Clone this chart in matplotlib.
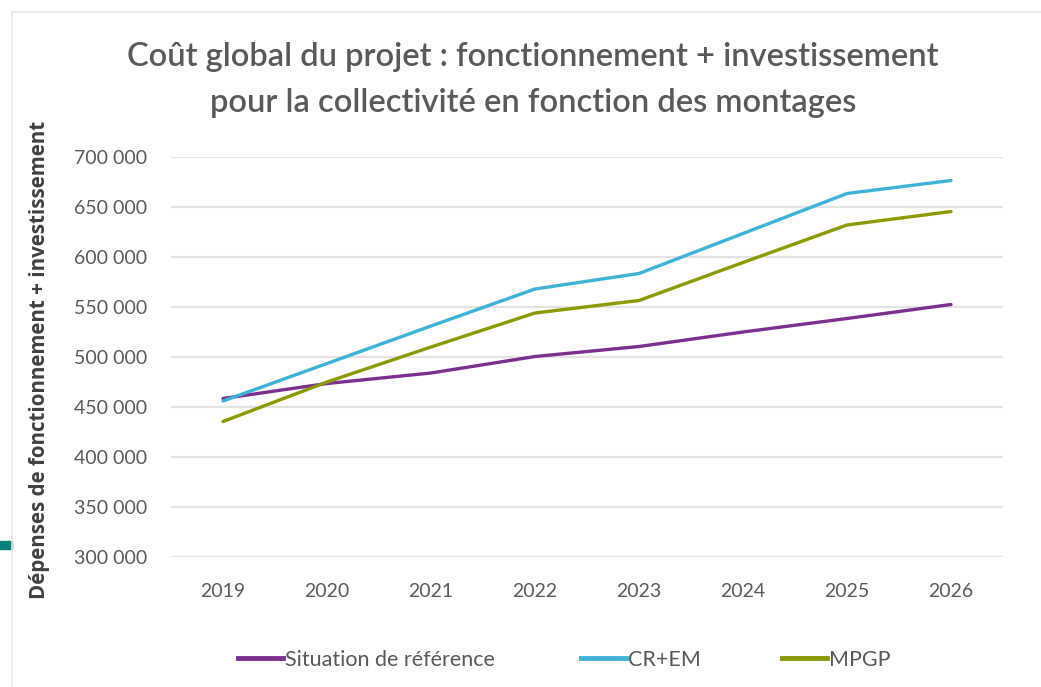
import matplotlib.pyplot as plt
from matplotlib.ticker import FuncFormatter
from matplotlib.patches import Rectangle
from matplotlib.lines import Line2D

years = ["2019", "2020", "2021", "2022", "2023", "2024", "2025", "2026"]
situation_ref = [458500, 473500, 484000, 500500, 510500, 525000, 538500, 552500]
cr_em = [456000, 493500, 531000, 568000, 583500, 623500, 663500, 676500]
mpgp = [435500, 475000, 510000, 544000, 556500, 594500, 632000, 645500]

series_names = ["Situation de référence", "CR+EM", "MPGP"]
colors = ["#7b2f8e", "#3fb3d6", "#8a9a00"]

text_color = "#595959"

fig = plt.figure(figsize=(10.41, 6.87), dpi=100)
ax = fig.add_axes([171 / 1041, 1 - 557 / 687, 832 / 1041, 400 / 687])

x = list(range(len(years)))
for vals, col, name in zip([situation_ref, cr_em, mpgp], colors, series_names):
    ax.plot(x, vals, color=col, linewidth=2.4, label=name, solid_capstyle="round")

ax.set_xlim(-0.5, len(years) - 0.5)
ax.set_ylim(300000, 700000)
ax.set_yticks(range(300000, 700001, 50000))
ax.yaxis.set_major_formatter(FuncFormatter(lambda v, p: f"{int(v):,}".replace(",", " ")))
ax.set_xticks(x)
ax.set_xticklabels(years)

ax.grid(axis="y", color="#e3e3e3", linewidth=1.6)
ax.set_axisbelow(True)
for s in ax.spines.values():
    s.set_visible(False)
ax.tick_params(axis="both", length=0, colors=text_color, labelsize=14)
ax.tick_params(axis="y", pad=17)
ax.tick_params(axis="x", pad=19)
for lbl in ax.get_xticklabels() + ax.get_yticklabels():
    lbl.set_family("Lato")

fig.text(533 / 1041, 1 - 57 / 687, "Coût global du projet : fonctionnement + investissement",
         ha="center", va="center", fontsize=23.5, family="Lato", fontweight="semibold", color=text_color)
fig.text(533 / 1041, 1 - 103 / 687, "pour la collectivité en fonction des montages",
         ha="center", va="center", fontsize=23.5, family="Lato", fontweight="semibold", color=text_color)

fig.text(40 / 1041, 1 - 360 / 687, "Dépenses de fonctionnement + investissement",
         rotation=90, ha="center", va="center", fontsize=14.8, family="Open Sans",
         fontweight="bold", color="#404040")

# one legend per entry so each sits where Excel put it
legend_x = [238, 581, 782]
for c, name, lx in zip(colors, series_names, legend_x):
    leg = fig.legend([Line2D([0], [0], color=c, linewidth=3.5)], [name], loc="center left",
                     bbox_to_anchor=(lx / 1041, 1 - 660 / 687), frameon=False,
                     handlelength=2.1, handletextpad=0.1, borderpad=0, borderaxespad=0,
                     prop={"family": "Lato", "size": 15.5})
    for t in leg.get_texts():
        t.set_color(text_color)

# chart frame and stray marker from the screenshot
fig.add_artist(Line2D([12 / 1041, 1], [1 - 12 / 687, 1 - 12 / 687], color="#e6e6e6", linewidth=1.2))
fig.add_artist(Line2D([12 / 1041, 12 / 1041], [1 - 12 / 687, 0], color="#e6e6e6", linewidth=1.2))
fig.add_artist(Rectangle((0, 1 - 549 / 687), 12 / 1041, 8 / 687, color="#0b7f7a",
                         transform=fig.transFigure))

fig.savefig("out.png", dpi=100)
